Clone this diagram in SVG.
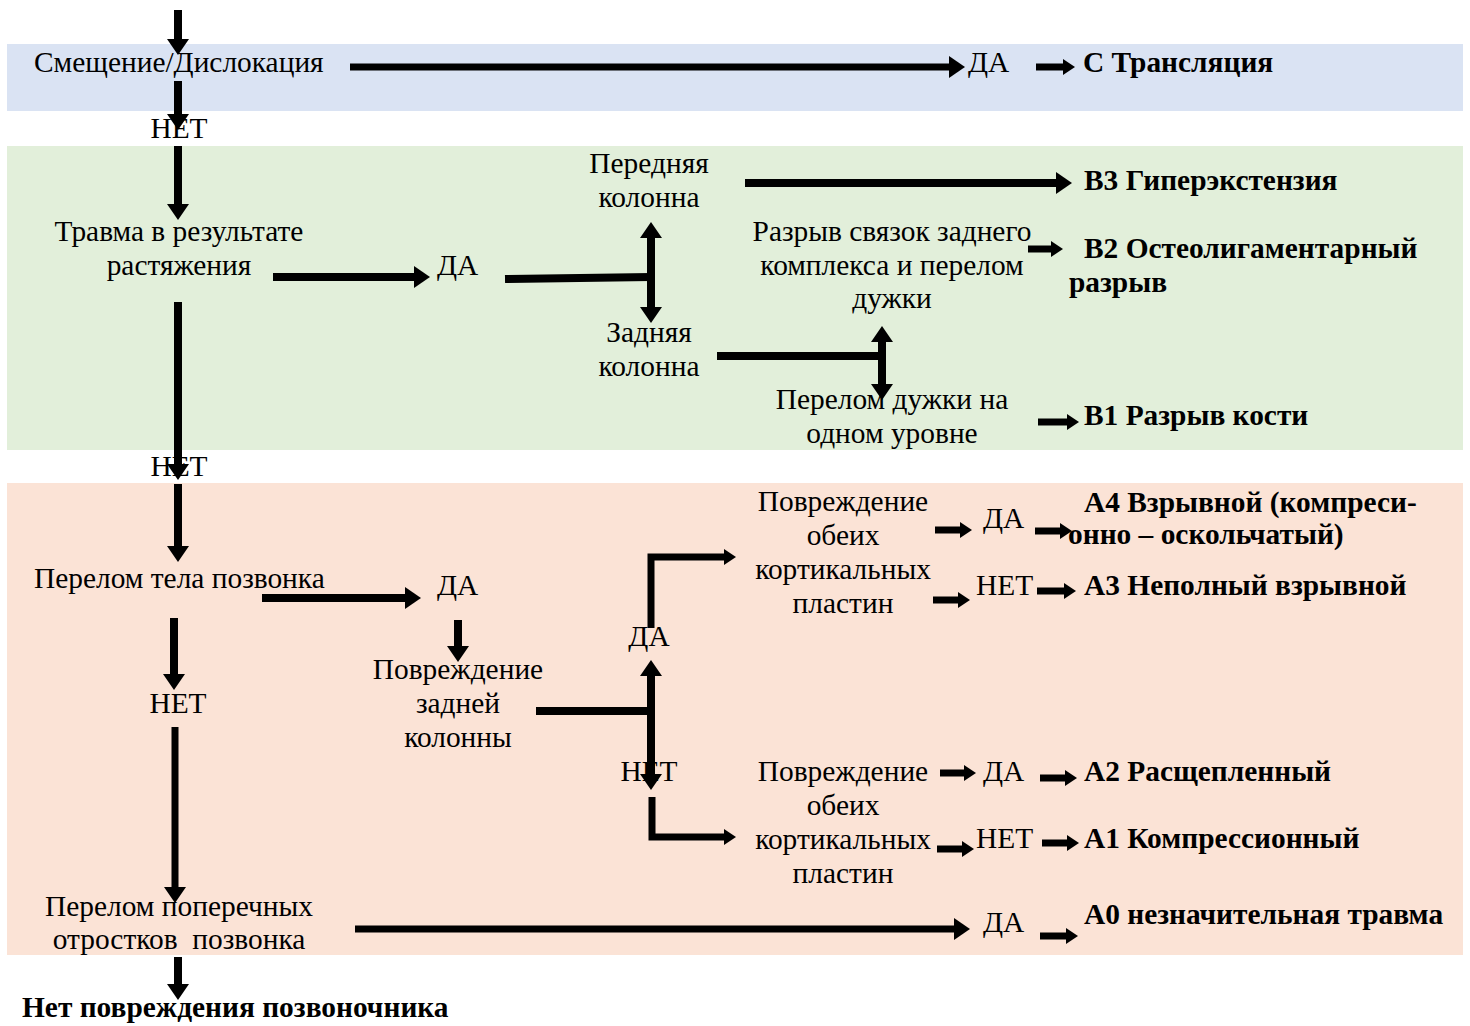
<svg xmlns="http://www.w3.org/2000/svg" width="1470" height="1026" viewBox="0 0 1470 1026">
<style>
text{font-family:"Liberation Serif","Times New Roman",serif;font-size:29.4px;fill:#000}
.b{font-weight:bold}
.c{text-anchor:middle}
.ln{stroke:#000;stroke-width:8;fill:none}
.sm{stroke:#000;stroke-width:7;fill:none}
</style>
<defs>
<marker id="a" viewBox="0 0 16 22" refX="2" refY="11" markerWidth="16" markerHeight="22" markerUnits="userSpaceOnUse" orient="auto-start-reverse"><path d="M0,0 L16,11 L0,22 z" fill="#000"/></marker>
<marker id="s" viewBox="0 0 12 16" refX="1" refY="8" markerWidth="12" markerHeight="16" markerUnits="userSpaceOnUse" orient="auto"><path d="M0,0 L12,8 L0,16 z" fill="#000"/></marker>
</defs>
<g id="bands">
<rect x="7" y="44" width="1456" height="67" fill="#DAE3F3"/>
<rect x="7" y="146" width="1456" height="304" fill="#E2EFDA"/>
<rect x="7" y="483" width="1456" height="472" fill="#FBE3D6"/>
</g>
<g id="connectors">
<line class="ln" x1="178" y1="10" x2="178" y2="41" marker-end="url(#a)"/>
<line class="ln" x1="178" y1="81" x2="178" y2="116" marker-end="url(#a)"/>
<line class="ln" x1="178" y1="146" x2="178" y2="206" marker-end="url(#a)"/>
<line class="sm" x1="350" y1="67" x2="951" y2="67" marker-end="url(#a)"/>
<line class="sm" x1="1036" y1="67" x2="1064" y2="67" marker-end="url(#s)"/>
<line class="ln" x1="273" y1="277" x2="416" y2="277" marker-end="url(#a)"/>
<line class="ln" x1="505" y1="279" x2="651" y2="277"/>
<line class="ln" x1="651" y1="236" x2="651" y2="309" marker-start="url(#a)" marker-end="url(#a)"/>
<line class="ln" x1="745" y1="183" x2="1058" y2="183" marker-end="url(#a)"/>
<line class="sm" x1="1028" y1="249" x2="1052" y2="249" marker-end="url(#s)"/>
<line class="ln" x1="717" y1="356" x2="882" y2="356"/>
<line class="ln" x1="882" y1="340" x2="882" y2="386" marker-start="url(#a)" marker-end="url(#a)"/>
<line class="sm" x1="1038" y1="422" x2="1068" y2="422" marker-end="url(#s)"/>
<line class="ln" x1="178" y1="302" x2="178" y2="466" marker-end="url(#a)"/>
<line class="ln" x1="178" y1="484" x2="178" y2="548" marker-end="url(#a)"/>
<line class="ln" x1="262" y1="598" x2="407" y2="598" marker-end="url(#a)"/>
<line class="ln" x1="458" y1="620" x2="458" y2="648" marker-end="url(#a)"/>
<line class="ln" x1="174" y1="618" x2="174" y2="676" marker-end="url(#a)"/>
<line class="sm" x1="175" y1="727" x2="175" y2="889" marker-end="url(#a)"/>
<line class="ln" x1="178" y1="957" x2="178" y2="986" marker-end="url(#a)"/>
<line class="sm" x1="355" y1="929" x2="956" y2="929" marker-end="url(#a)"/>
<line class="sm" x1="1040" y1="936" x2="1067" y2="936" marker-end="url(#s)"/>
<line class="ln" x1="536" y1="711" x2="651" y2="711"/>
<line class="ln" x1="651" y1="674" x2="651" y2="776" marker-start="url(#a)" marker-end="url(#a)"/>
<path class="sm" d="M651,628 V557 H725" marker-end="url(#s)"/>
<path class="sm" d="M652,797 V837 H725" marker-end="url(#s)"/>
<line class="sm" x1="935" y1="530" x2="961" y2="530" marker-end="url(#s)"/>
<line class="sm" x1="1035" y1="531" x2="1061" y2="531" marker-end="url(#s)"/>
<line class="sm" x1="933" y1="600" x2="959" y2="600" marker-end="url(#s)"/>
<line class="sm" x1="1037" y1="591" x2="1065" y2="591" marker-end="url(#s)"/>
<line class="sm" x1="940" y1="773" x2="965" y2="773" marker-end="url(#s)"/>
<line class="sm" x1="1040" y1="778" x2="1066" y2="778" marker-end="url(#s)"/>
<line class="sm" x1="937" y1="849" x2="963" y2="849" marker-end="url(#s)"/>
<line class="sm" x1="1042" y1="843" x2="1068" y2="843" marker-end="url(#s)"/>
</g>
<g id="n-displacement"><text x="34" y="72">Смещение/Дислокация</text></g>
<g id="l-da0"><text x="968" y="72">ДА</text></g>
<g id="n-C"><text class="b" x="1083" y="72">С Трансляция</text></g>
<g id="l-net0"><text class="c" x="179" y="138">НЕТ</text></g>
<g id="n-distraction"><text class="c" x="179" y="241">Травма в результате</text><text class="c" x="179" y="275">растяжения</text></g>
<g id="l-da1"><text x="437" y="275">ДА</text></g>
<g id="n-anterior"><text class="c" x="649" y="173">Передняя</text><text class="c" x="649" y="207">колонна</text></g>
<g id="n-B3"><text class="b" x="1084" y="190">В3 Гиперэкстензия</text></g>
<g id="n-ligament"><text class="c" x="892" y="241">Разрыв связок заднего</text><text class="c" x="892" y="275">комплекса и перелом</text><text class="c" x="892" y="308">дужки</text></g>
<g id="n-B2"><text class="b" x="1084" y="258">В2 Остеолигаментарный</text><text class="b" x="1069" y="292">разрыв</text></g>
<g id="n-posterior"><text class="c" x="649" y="342">Задняя</text><text class="c" x="649" y="376">колонна</text></g>
<g id="n-arch"><text class="c" x="892" y="409">Перелом дужки на</text><text class="c" x="892" y="443">одном уровне</text></g>
<g id="n-B1"><text class="b" x="1084" y="425">В1 Разрыв кости</text></g>
<g id="l-net1"><text class="c" x="179" y="476">НЕТ</text></g>
<g id="n-body"><text x="34" y="588">Перелом тела позвонка</text></g>
<g id="l-da2"><text x="437" y="595">ДА</text></g>
<g id="n-postinj"><text class="c" x="458" y="679">Повреждение</text><text class="c" x="458" y="713">задней</text><text class="c" x="458" y="747">колонны</text></g>
<g id="l-net2"><text class="c" x="178" y="713">НЕТ</text></g>
<g id="l-da3"><text class="c" x="649" y="646">ДА</text></g>
<g id="l-net3"><text class="c" x="649" y="781">НЕТ</text></g>
<g id="n-plates1"><text class="c" x="843" y="511">Повреждение</text><text class="c" x="843" y="545">обеих</text><text class="c" x="843" y="579">кортикальных</text><text class="c" x="843" y="613">пластин</text></g>
<g id="l-da4"><text x="983" y="528">ДА</text></g>
<g id="n-A4"><text class="b" x="1084" y="512">А4 Взрывной (компреси-</text><text class="b" x="1068" y="544">онно – оскольчатый)</text></g>
<g id="l-net4"><text x="976" y="595">НЕТ</text></g>
<g id="n-A3"><text class="b" x="1084" y="595">А3 Неполный взрывной</text></g>
<g id="n-plates2"><text class="c" x="843" y="781">Повреждение</text><text class="c" x="843" y="815">обеих</text><text class="c" x="843" y="849">кортикальных</text><text class="c" x="843" y="883">пластин</text></g>
<g id="l-da5"><text x="983" y="781">ДА</text></g>
<g id="n-A2"><text class="b" x="1084" y="781">А2 Расщепленный</text></g>
<g id="l-net5"><text x="976" y="848">НЕТ</text></g>
<g id="n-A1"><text class="b" x="1084" y="848">А1 Компрессионный</text></g>
<g id="n-transverse"><text class="c" x="179" y="916">Перелом поперечных</text><text class="c" x="179" y="949" xml:space="preserve">отростков  позвонка</text></g>
<g id="l-da6"><text x="983" y="932">ДА</text></g>
<g id="n-A0"><text class="b" x="1084" y="924">А0 незначительная травма</text></g>
<g id="n-none"><text class="b" x="22" y="1017">Нет повреждения позвоночника</text></g>
</svg>
